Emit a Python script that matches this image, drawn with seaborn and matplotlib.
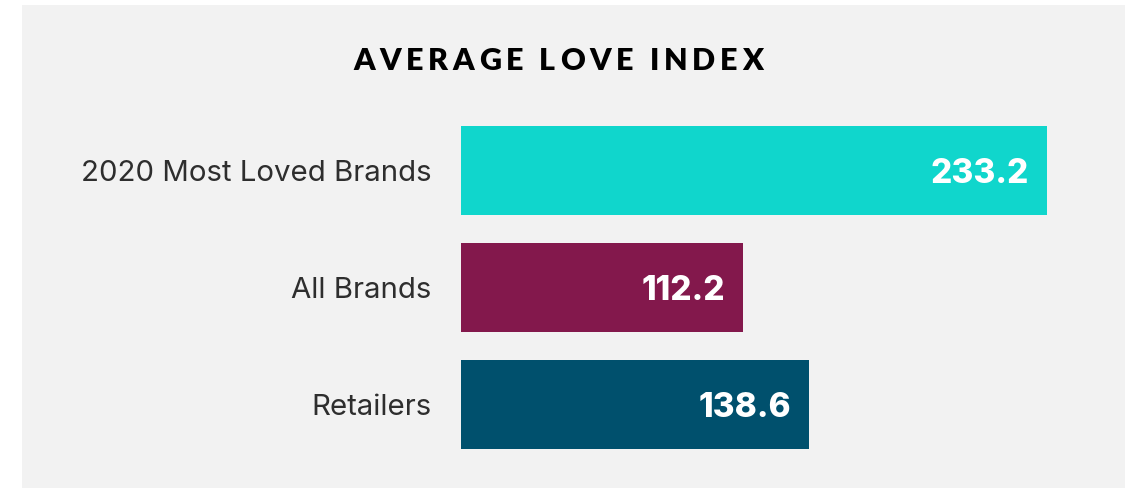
import matplotlib
matplotlib.use("Agg")
import matplotlib.pyplot as plt
import matplotlib.transforms as mtransforms
from matplotlib.patches import Rectangle
from matplotlib.font_manager import FontProperties
import seaborn as sns
import pandas as pd

# Data
categories = ["2020 Most Loved Brands", "All Brands", "Retailers"]
love_index = [233.2, 112.2, 138.6]
value_labels = ["233.2", "112.2", "138.6"]
bar_colors = ["#10d6cc", "#83184c", "#00506d"]
title = "AVERAGE LOVE INDEX"

sns.set_theme(style="white")
plt.rcParams["font.family"] = ["Inter", "DejaVu Sans"]

W, H = 1131, 488
fig = plt.figure(figsize=(W / 100, H / 100), dpi=100)
fig.patch.set_facecolor("white")

# Light grey card behind the chart
fig.patches.append(Rectangle((22 / W, 0), (1125 - 22) / W, (H - 5) / H,
                             transform=fig.transFigure, facecolor="#f2f2f2",
                             edgecolor="none", zorder=-10))

# Axes in pixel layout
left, right, top, bottom = 461, 1125, 100, 470
ax = fig.add_axes([left / W, 1 - bottom / H, (right - left) / W, (bottom - top) / H])
ax.set_facecolor("none")
ax.set_zorder(5)

df = pd.DataFrame({"category": categories, "value": love_index})
sns.barplot(data=df, x="value", y="category", hue="category",
            palette=bar_colors, width=0.76, orient="h", legend=False,
            saturation=1, linewidth=0, ax=ax)

px_per_unit = 2.513
step = 117.0
ax.set_xlim(0, (right - left) / px_per_unit)
ax.set_ylim((bottom - 170.5) / step, -(170.5 - top) / step)

for s in ax.spines.values():
    s.set_visible(False)
ax.set_xticks([])
ax.set_xlabel("")
ax.set_ylabel("")
ax.tick_params(axis="y", length=0, pad=21.5, labelsize=21.2, labelcolor="#2e2e2e")
for t in ax.get_yticklabels():
    t.set_verticalalignment("center_baseline")

# Value labels inside bar ends
offset = mtransforms.offset_copy(ax.transData, fig=fig, x=-18 * 0.72, y=0, units="points")
for i, (v, lab) in enumerate(zip(love_index, value_labels)):
    ax.text(v, i, lab, transform=offset, ha="right", va="center_baseline",
            fontsize=24, fontweight="heavy", color="white")

# Letter-spaced title
fp = FontProperties(family="Lato", weight="heavy", size=22)
fig.canvas.draw()
renderer = fig.canvas.get_renderer()
def text_w(s):
    if not s:
        return 0.0
    w, _, _ = renderer.get_text_width_height_descent(s, fp, ismath=False)
    return w
target_width = 410.0
natural = text_w(title)
track = (target_width - natural) / (len(title) - 1)
x0 = 558 - target_width / 2
for i, ch in enumerate(title):
    if ch == " ":
        continue
    xp = x0 + text_w(title[:i]) + i * track
    fig.text(xp / W, 1 - 70 / H, ch, fontproperties=fp, color="black",
             ha="left", va="baseline", zorder=6)

fig.savefig("out.png", dpi=100, facecolor="white")
